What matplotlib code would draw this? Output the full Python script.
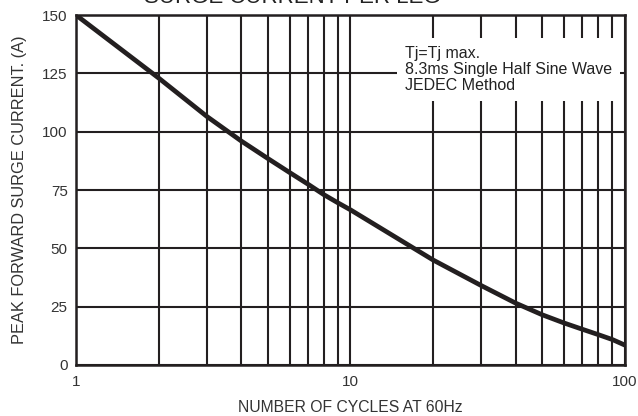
import matplotlib
matplotlib.use("Agg")
import matplotlib.pyplot as plt
from matplotlib.ticker import FixedLocator, NullFormatter

plt.rcParams['font.family'] = ['Liberation Sans', 'DejaVu Sans']

# curve (cycles at 60Hz, peak surge current in A)
cycles = [1, 2, 3, 4, 5, 6, 7, 8, 9, 10, 20, 30, 40, 50, 60, 70, 80, 90, 100]
current = [150, 123, 106.5, 96, 88.5, 82.5, 77.5, 73, 69.5, 66.5,
           45, 34, 26.5, 21.5, 18, 15.3, 13, 10.9, 8.5]

major_x = [1, 10, 100]
minor_x = [2, 3, 4, 5, 6, 7, 8, 9, 20, 30, 40, 50, 60, 70, 80, 90]
y_ticks = [0, 25, 50, 75, 100, 125, 150]

ink = '#231f20'

fig = plt.figure(figsize=(6.38, 4.16), dpi=100)
ax = fig.add_axes([0.1191, 0.1226, 0.8605, 0.8413])

ax.plot(cycles, current, color=ink, linewidth=3.4, solid_capstyle='butt',
        solid_joinstyle='round', zorder=2)

ax.set_xscale('log')
ax.set_xlim(1, 100)
ax.set_ylim(0, 150)
ax.xaxis.set_major_locator(FixedLocator(major_x))
ax.xaxis.set_minor_locator(FixedLocator(minor_x))
ax.xaxis.set_minor_formatter(NullFormatter())
ax.set_xticklabels([str(v) for v in major_x])
ax.set_yticks(y_ticks)

ax.set_axisbelow(True)
ax.grid(True, which='both', axis='x', color=ink, linewidth=1.5)
ax.grid(True, which='major', axis='y', color=ink, linewidth=1.5)

ax.tick_params(which='both', length=0, labelsize=11, colors='#333333')
ax.tick_params(axis='y', pad=6)
ax.tick_params(axis='x', pad=7)

for sp in ax.spines.values():
    sp.set_color(ink)
    sp.set_linewidth(1.8)

ax.set_xlabel('NUMBER OF CYCLES AT 60Hz', fontsize=11.3, color='#333333', labelpad=8)
ax.set_ylabel('PEAK FORWARD SURGE CURRENT. (A)', fontsize=11.8, color='#333333', labelpad=11)

ax.text(0.599, 0.844, 'Tj=Tj max.\n8.3ms Single Half Sine Wave\nJEDEC Method',
        transform=ax.transAxes, ha='left', va='center', fontsize=11.5,
        linespacing=1.1, color='#222222', zorder=3,
        bbox=dict(boxstyle='square,pad=0.5', facecolor='white', edgecolor='none'))

fig.text(0.4577, 0.9935, 'SURGE CURRENT PER LEG', ha='center', va='baseline',
         fontsize=16, color='#222222')

fig.savefig('out.png', dpi=100)
